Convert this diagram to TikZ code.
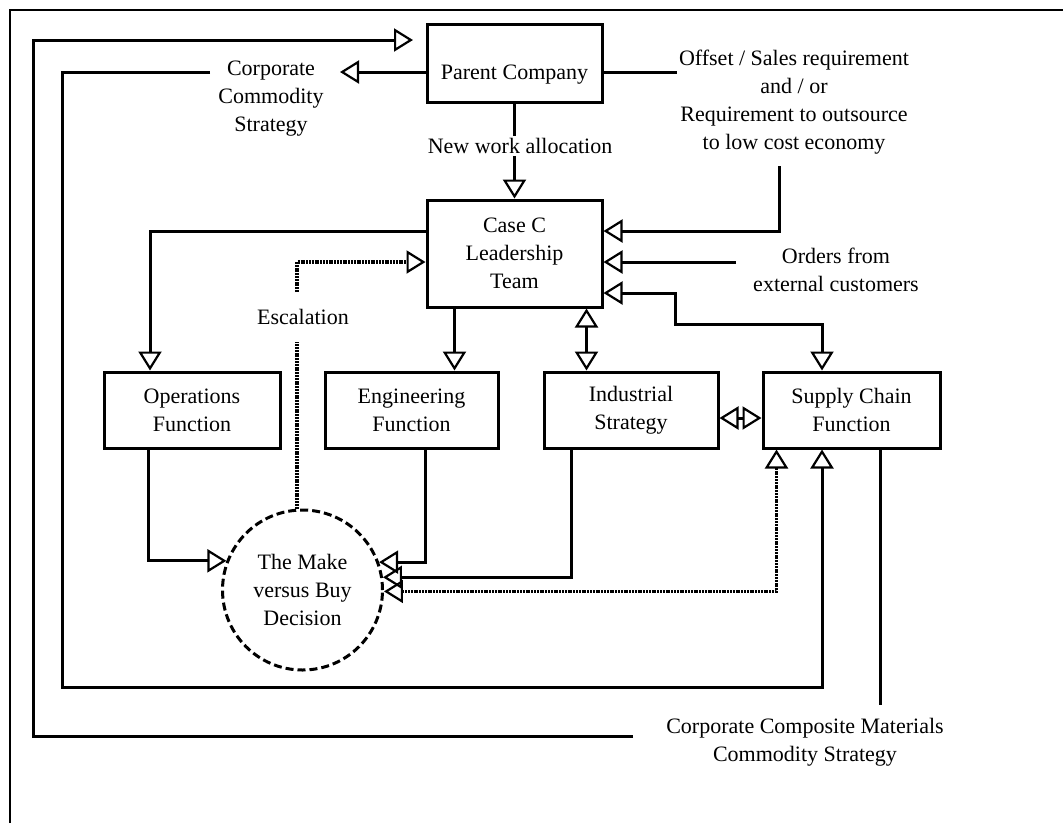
\documentclass[tikz,border=0pt]{standalone}
\usepackage{fontspec}
\setmainfont{Liberation Serif}
\usetikzlibrary{arrows.meta}

\tikzset{
  txt/.style={font=\fontsize{22pt}{28pt}\selectfont, align=center, inner sep=2pt},
  box/.style={draw, line width=3pt, txt},
  conn/.style={line width=3pt},
  dotline/.style={line width=3.2pt, dash pattern=on 2pt off 0.8pt},
  opentip/.tip={Triangle[open, length=19pt, width=23pt, line width=2.2pt]},
  tip/.style={-opentip},
  tips/.style={opentip-opentip},
}

\begin{document}
\begin{tikzpicture}[x=1pt, y=-1pt]
\useasboundingbox (0,0) rectangle (1063,823);

% frame
\draw[line width=2.2pt] (10,823) -- (10,10) -- (1063,10);

% boxes
\node[box, minimum width=175pt, minimum height=78pt, text height=36pt, text depth=4pt] (parent) at (514.5,63) {Parent Company};
\node[box, minimum width=175pt, minimum height=107pt] (case) at (514.5,253.5) {Case C\\Leadership\\Team};
\node[box, minimum width=176pt, minimum height=76pt] (ops) at (192,410) {Operations\\Function};
\node[box, minimum width=173pt, minimum height=76pt] (eng) at (411.5,410) {Engineering\\Function};
\node[box, minimum width=174pt, minimum height=76pt] (ind) at (631,410) {Industrial\\Strategy};
\node[box, minimum width=177pt, minimum height=76pt] (sup) at (851.5,410) {Supply Chain\\Function};
\node[circle, draw, line width=3pt, dash pattern=on 8pt off 4pt, minimum size=160pt, txt] (dm) at (302.5,590) {The Make\\versus Buy\\Decision};

% free labels
\node[txt] (corpstrat) at (271,99) {Corporate\\Commodity\\Strategy};
\node[txt] (offset) at (794,102) {Offset / Sales requirement\\and / or\\Requirement to outsource\\to low cost economy};
\node[txt] (newwork) at (520,146) {New work allocation};
\node[txt] (orders) at (836,270) {Orders from\\external customers};
\node[txt, inner ysep=17pt] (escal) at (303,317) {Escalation};
\node[txt] (ccm) at (805,742) {Corporate Composite Materials\\Commodity Strategy};

% free ends and bends of connectors
\coordinate (ccmEnd) at (633,736);
\coordinate (parentIn) at (413,40);
\coordinate (corpOut) at (340,72);
\coordinate (corpBack) at (210,72);
\coordinate (offsetOut) at (677,72);
\coordinate (reqEnd) at (779,166);
\coordinate (ordersEnd) at (736,262);
\coordinate (supDown) at (880,705);
\coordinate (opsTurn) at (150,231);
\coordinate (supTurn) at (822,324);
\coordinate (loopTurn) at (822,687);
\coordinate (escTurn) at (297,262);

% corporate composite materials strategy into the parent company
\draw[conn, tip] (ccmEnd) -- (33,736) -- (33,40) -- (parentIn);

% parent company outputs
\draw[conn, tip] ([yshift=-9pt]parent.west) -- (corpOut);
\draw[conn] ([yshift=-9pt]parent.east) -- (offsetOut);
\draw[conn] (parent.south) -- (parent.south |- newwork.north);
\draw[conn, tip] (newwork.south -| case.north) -- (case.north);

% corporate commodity strategy loop to supply chain
\draw[conn, tip] (corpBack) -- (62,72) -- (62,687) -- (loopTurn) -- (loopTurn |- sup.south);

% inputs to the leadership team
\draw[conn, tip] (reqEnd) -- (779,231) -- ([yshift=22.5pt]case.east);
\draw[conn, tip] (ordersEnd) -- ([yshift=-8.5pt]case.east);
\draw[conn, tips] ([yshift=-39.5pt]case.east) -- (675,293) -- (675,324) -- (supTurn) -- (supTurn |- sup.north);

% leadership team to functions
\draw[conn, tip] ([yshift=22.5pt]case.west) -- (opsTurn) -- (opsTurn |- ops.north);
\draw[conn, tip] ([xshift=29pt]case.south west) -- ([xshift=29pt]case.south west |- eng.north);
\draw[conn, tips] ([xshift=161pt]case.south west) -- ([xshift=161pt]case.south west |- ind.north);
\draw[conn, tips] ([yshift=-8pt]ind.east) -- ([yshift=-8pt]sup.west);

% escalation
\draw[dotline] ([xshift=-5.5pt]dm.north) -- ([xshift=-5.5pt]dm.north |- escal.south);
\draw[dotline, tip] (escTurn |- escal.north) -- (escTurn) -- ([yshift=-8.5pt]case.west);

% functions into the decision
\draw[conn, tip] ([xshift=46pt]ops.south west) |- (dm.159.5);
\draw[conn, tip] ([xshift=102pt]eng.south west) |- (dm.20.5);
\draw[conn, tip] ([xshift=29pt]ind.south west) |- (dm.9.4);
\draw[dotline, tips] (dm.-1.4) -| ([xshift=15pt]sup.south west);

% supply chain to corporate composite materials strategy
\draw[conn] (supDown |- sup.south) -- (supDown);

\end{tikzpicture}
\end{document}
